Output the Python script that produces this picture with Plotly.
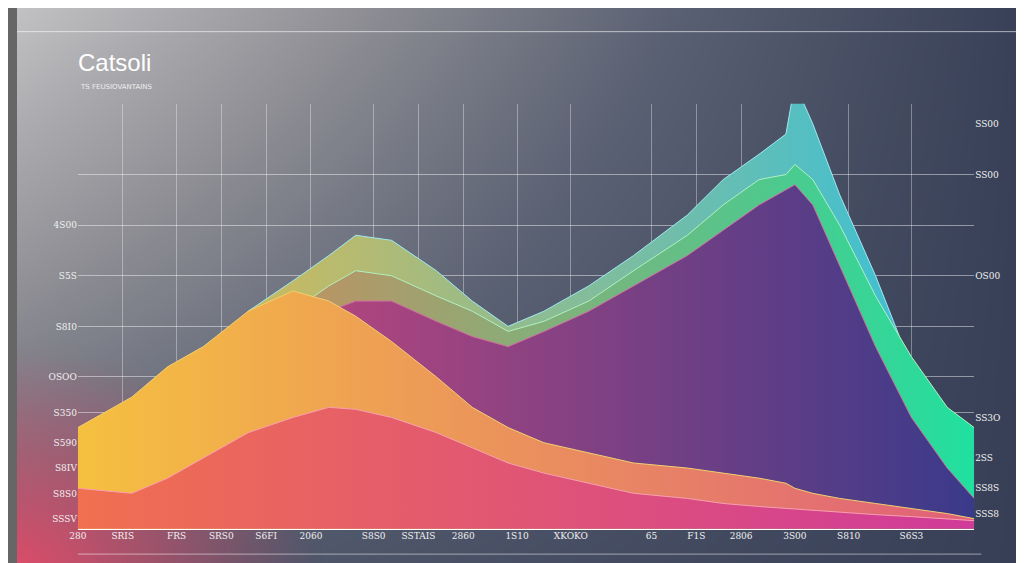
import numpy as np
import plotly.graph_objects as go

# x positions (chart units) shared by every series
x = [0, 6, 10, 14, 19, 24, 28, 31, 35, 40, 44, 48, 52, 57, 62, 68, 72, 76, 79, 80, 82, 85, 89, 93, 97, 100]

cyan_blue = [70, 90, 130, 170, 215, 245, 270, 290, 285, 255, 225, 200, 215, 240, 270, 310, 345, 370, 390, 440, 400, 330, 250, 160, 100, 90]
teal_green = [60, 80, 120, 160, 190, 215, 240, 255, 250, 230, 215, 195, 205, 225, 255, 290, 320, 345, 350, 360, 345, 300, 230, 170, 120, 100]
dark_purple = [40, 60, 100, 140, 180, 200, 215, 225, 225, 205, 190, 180, 195, 215, 240, 270, 295, 320, 335, 340, 320, 260, 180, 110, 60, 30]
orange = [100, 130, 160, 180, 215, 235, 225, 210, 185, 150, 120, 100, 85, 75, 65, 60, 55, 50, 45, 40, 35, 30, 25, 20, 15, 10]
pink = [40, 35, 50, 70, 95, 110, 120, 118, 110, 95, 80, 65, 55, 45, 35, 30, 25, 22, 20, 20, 18, 16, 14, 12, 10, 8]

x_ticks = [0, 5, 11, 16, 21, 26, 33, 38, 43, 49, 55, 64, 69, 74, 80, 86, 93]
x_labels = ["280", "SRIS", "FRS", "SRS0", "S6FI", "2060", "S8S0", "SSTAIS", "2860", "1S10", "XKOKO", "65", "F1S", "2806", "3S00", "S810", "S6S3"]
y_ticks = [10, 35, 60, 85, 115, 150, 200, 250, 300, 350]
y_labels = ["SSSV", "S8S0", "S8IV", "S590", "S350", "OSOO", "S8I0", "S5S", "4S00", ""]
r_ticks = [15, 40, 70, 110, 250, 350, 400]
r_labels = ["SSS8", "SS8S", "2SS", "SS3O", "OS00", "SS00", "SS00"]

fig = go.Figure()

# gradient backdrop over the whole page (on the first, hidden axes so it sits underneath)
gx = np.linspace(0, 1, 60)
gy = np.linspace(0, 1, 40)
gz = [[0.6 * xx + 0.4 * (1 - yy) * (1 - xx) for xx in gx] for yy in gy]
fig.add_trace(go.Heatmap(x=gx, y=gy, z=gz, showscale=False, hoverinfo="skip", zsmooth="best",
                         colorscale=[[0, "#c4c4c6"], [0.35, "#8e8e94"], [0.65, "#596072"], [1, "#363e56"]]))
pz = [[max(0.0, 1 - np.hypot(xx / 0.3, yy / 0.4)) for xx in gx] for yy in gy]
fig.add_trace(go.Heatmap(x=gx, y=gy, z=pz, showscale=False, hoverinfo="skip", zsmooth="best", zmin=0, zmax=1,
                         colorscale=[[0, "rgba(230,70,100,0)"], [1, "rgba(235,75,105,0.95)"]]))

def area(y, c0, c1, op, lc):
    fig.add_trace(go.Scatter(x=x, y=y, xaxis="x2", yaxis="y2", mode="lines", fill="tozeroy", opacity=op,
                             line=dict(color=lc, width=1), hoverinfo="skip",
                             fillgradient=dict(type="horizontal", colorscale=[[0, c0], [1, c1]])))

area(cyan_blue, "#f0b840", "#30c0e0", 0.9, "#9ee8f0")
area(teal_green, "#f07a50", "#20e0a0", 0.85, "#b0f0c0")
area(dark_purple, "#e04a7a", "#3a3a8a", 0.92, "#d070a0")
area(orange, "#f5c040", "#e0607a", 0.75, "#f0d070")
area(pink, "#f07050", "#d03a9a", 0.55, "#f8a0b0")

fig.add_trace(go.Scatter(x=[0], y=[0], xaxis="x2", yaxis="y3", mode="markers", marker=dict(opacity=0), hoverinfo="skip"))

axis_font = dict(family="DejaVu Serif", size=9, color="#f0f0f0")
fig.update_layout(
    width=1024, height=563, margin=dict(l=0, r=0, t=0, b=0),
    showlegend=False, paper_bgcolor="#666", plot_bgcolor="rgba(0,0,0,0)",
    xaxis=dict(domain=[0, 1], range=[0.01, 0.99], visible=False),
    yaxis=dict(domain=[0, 1], range=[0.01, 0.99], visible=False),
    xaxis2=dict(domain=[0.06, 0.943], range=[0, 100], tickvals=x_ticks, ticktext=x_labels, tickfont=axis_font,
                showgrid=True, gridcolor="rgba(255,255,255,0.35)", zeroline=False, anchor="y2"),
    yaxis2=dict(domain=[0.075, 0.83], range=[0, 420], tickvals=y_ticks, ticktext=y_labels, tickfont=axis_font,
                showgrid=True, gridcolor="rgba(255,255,255,0.45)", zeroline=False, anchor="x2"),
    yaxis3=dict(overlaying="y2", side="right", anchor="x2", range=[0, 420], tickvals=r_ticks, ticktext=r_labels,
                tickfont=axis_font, showgrid=False),
)
fig.add_annotation(text="Catsoli", x=0.058, y=0.93, xref="paper", yref="paper", showarrow=False,
                   xanchor="left", font=dict(family="Liberation Sans", size=24, color="white"))
fig.add_annotation(text="TS FEUSIOVANTAINS", x=0.06, y=0.87, xref="paper", yref="paper", showarrow=False,
                   xanchor="left", font=dict(family="DejaVu Sans", size=7, color="#eee"))
fig.add_shape(type="line", xref="paper", yref="paper", x0=0, x1=1, y0=0.958, y1=0.958,
              line=dict(color="rgba(255,255,255,0.6)", width=1))
fig.add_shape(type="line", xref="paper", yref="paper", x0=0.06, x1=0.95, y0=0.03, y1=0.03,
              line=dict(color="rgba(255,255,255,0.5)", width=1))
fig.write_html("out.html")
